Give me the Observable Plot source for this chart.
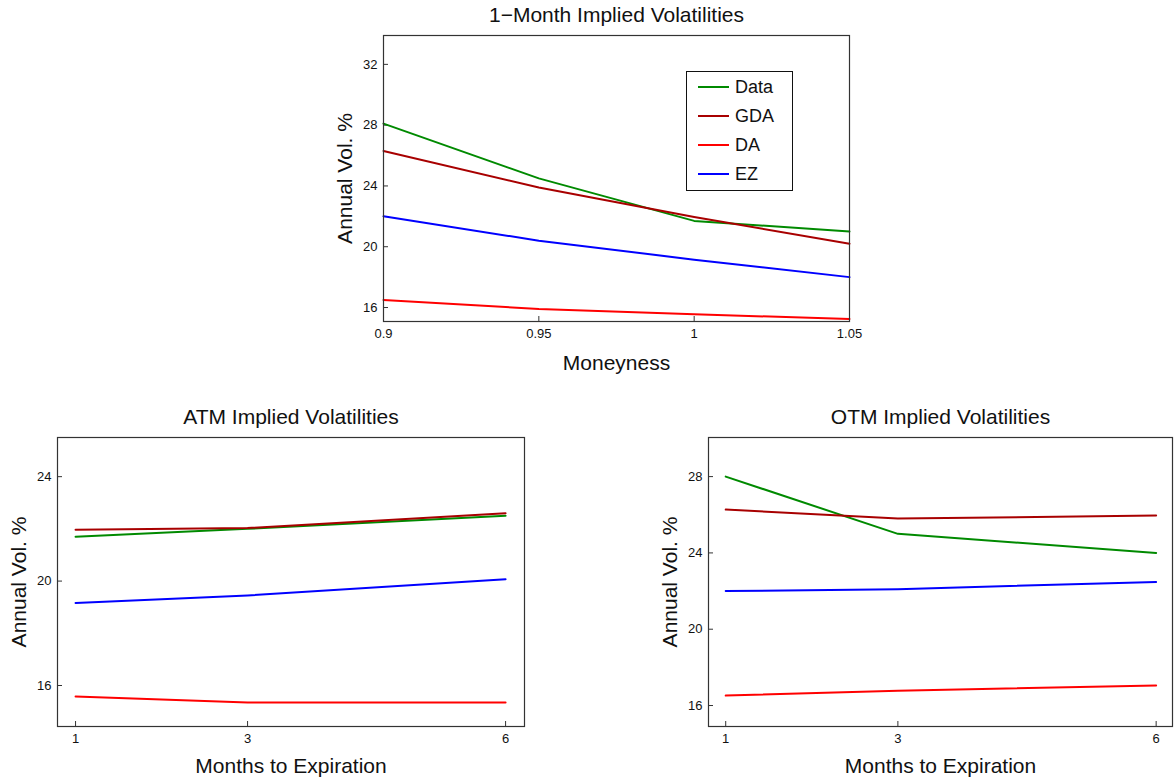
<!DOCTYPE html>
<html>
<head>
<meta charset="utf-8">
<script src="https://cdn.jsdelivr.net/npm/d3@7"></script>
<script src="https://cdn.jsdelivr.net/npm/@observablehq/plot@0.6"></script>
<style>
  html, body { margin: 0; padding: 0; background: #fff; overflow: hidden; }
  body { width: 1174px; height: 780px; position: relative; font-family: "Liberation Sans", Arial, sans-serif; }
  .chart { position: absolute; }
  .legend { position: absolute; background: #fff; border: 1.5px solid #111; box-sizing: border-box; }
  .legend .row { position: absolute; left: 0; height: 22px; }
  .legend .sw { position: absolute; left: 11px; top: 10px; width: 31px; height: 2px; }
  .legend .lab { position: absolute; left: 48px; top: 0; font-size: 18px; line-height: 22px; color: #111; white-space: nowrap; }
</style>
</head>
<body>
<script>
// ---- Data ----
const seriesNames = ["Data", "GDA", "DA", "EZ"];
const seriesColors = ["#008a00", "#a80000", "#ff0000", "#0000ff"];

// 1-Month implied volatilities vs moneyness
const moneyness = [0.9, 0.95, 1, 1.05];
const oneMonthData = [28.1, 24.5, 21.7, 21.0];
const oneMonthGDA  = [26.3, 23.9, 21.95, 20.2];
const oneMonthDA   = [16.5, 15.9, 15.55, 15.25];
const oneMonthEZ   = [22.0, 20.4, 19.15, 18.0];

// ATM implied volatilities vs months to expiration
const months = [1, 3, 6];
const atmData = [21.7, 22.0, 22.5];
const atmGDA  = [21.97, 22.03, 22.6];
const atmDA   = [15.58, 15.35, 15.35];
const atmEZ   = [19.16, 19.45, 20.07];

// OTM implied volatilities vs months to expiration
const otmData = [28.0, 25.0, 24.0];
const otmGDA  = [26.27, 25.8, 25.96];
const otmDA   = [16.52, 16.78, 17.05];
const otmEZ   = [22.0, 22.1, 22.48];

// tick labels
const moneynessTicks = [0.9, 0.95, 1, 1.05];
const monthTicks = [1, 3, 6];
const oneMonthYTicks = [16, 20, 24, 28, 32];
const atmYTicks = [16, 20, 24];
const otmYTicks = [16, 20, 24, 28];

function toRows(xs, lists) {
  const rows = [];
  lists.forEach((vals, si) => {
    vals.forEach((v, i) => rows.push({x: xs[i], y: v, s: seriesNames[si]}));
  });
  return rows;
}

function makeChart(cfg) {
  const W = cfg.frameW, H = cfg.frameH;
  const width = cfg.ml + W + cfg.mr;
  const height = cfg.mt + H + cfg.mb;
  const rows = toRows(cfg.xs, cfg.lists);
  const svg = Plot.plot({
    width, height,
    marginLeft: cfg.ml, marginRight: cfg.mr, marginTop: cfg.mt, marginBottom: cfg.mb,
    style: {fontFamily: '"Liberation Sans", Arial, sans-serif', fontSize: "13px", color: "#111", background: "transparent"},
    x: {domain: cfg.xDomain, ticks: cfg.xTicks, tickSize: 0, tickPadding: 7, label: null, tickFormat: d => String(d)},
    y: {domain: cfg.yDomain, ticks: cfg.yTicks, tickSize: 0, tickPadding: 6, label: null, tickFormat: d => String(d)},
    color: {domain: seriesNames, range: seriesColors},
    marks: [
      Plot.tickX(cfg.xTicks, {x: d => d, insetTop: H - 5, stroke: "#333", strokeWidth: 1}),
      Plot.tickY(cfg.yTicks, {y: d => d, insetRight: W - 5, stroke: "#333", strokeWidth: 1}),
      Plot.line(rows, {x: "x", y: "y", z: "s", stroke: "s", strokeWidth: 2}),
      Plot.frame({stroke: "#333", strokeWidth: 1.2}),
      Plot.text([cfg.title], {frameAnchor: "top", dy: -cfg.titleOffset, text: d => d, fontSize: 21, textAnchor: "middle", lineAnchor: "middle", fill: "#111"}),
      Plot.text([cfg.xLabel], {frameAnchor: "bottom", dy: cfg.xLabelOffset, text: d => d, fontSize: 21, textAnchor: "middle", lineAnchor: "middle", fill: "#111"}),
      Plot.text(["Annual Vol. %"], {frameAnchor: "left", dx: -38, rotate: -90, text: d => d, fontSize: 21, textAnchor: "middle", lineAnchor: "middle", fill: "#111"})
    ]
  });
  const div = document.createElement("div");
  div.className = "chart";
  div.style.left = cfg.left + "px";
  div.style.top = cfg.top + "px";
  div.appendChild(svg);
  document.body.appendChild(div);
}

// Top chart: frame x 383..849, y 35..321
makeChart({
  left: 323, top: 0, ml: 60, mr: 25, mt: 35, mb: 55, frameW: 466, frameH: 286,
  xs: moneyness, lists: [oneMonthData, oneMonthGDA, oneMonthDA, oneMonthEZ],
  xDomain: [0.9, 1.05], yDomain: [15.08, 33.9],
  xTicks: moneynessTicks, yTicks: oneMonthYTicks,
  title: "1\u2212Month Implied Volatilities", titleOffset: 20,
  xLabel: "Moneyness", xLabelOffset: 42
});

// Bottom-left: frame x 57..524, y 437..726
makeChart({
  left: 0, top: 397, ml: 57, mr: 15, mt: 40, mb: 54, frameW: 467, frameH: 289,
  xs: months, lists: [atmData, atmGDA, atmDA, atmEZ],
  xDomain: [0.79, 6.22], yDomain: [14.43, 25.5],
  xTicks: monthTicks, yTicks: atmYTicks,
  title: "ATM Implied Volatilities", titleOffset: 20,
  xLabel: "Months to Expiration", xLabelOffset: 40
});

// Bottom-right: frame x 708..1172, y 437..726
makeChart({
  left: 651, top: 397, ml: 57, mr: 2, mt: 40, mb: 54, frameW: 464, frameH: 289,
  xs: months, lists: [otmData, otmGDA, otmDA, otmEZ],
  xDomain: [0.8, 6.19], yDomain: [14.9, 30.05],
  xTicks: monthTicks, yTicks: otmYTicks,
  title: "OTM Implied Volatilities", titleOffset: 20,
  xLabel: "Months to Expiration", xLabelOffset: 40
});

// Legend for the top chart
const legend = document.createElement("div");
legend.className = "legend";
legend.style.left = "686px";
legend.style.top = "71px";
legend.style.width = "107px";
legend.style.height = "120px";
seriesNames.forEach((name, i) => {
  const row = document.createElement("div");
  row.className = "row";
  row.style.top = (4 + i * 29) + "px";
  const sw = document.createElement("div");
  sw.className = "sw";
  sw.style.background = seriesColors[i];
  const lab = document.createElement("div");
  lab.className = "lab";
  lab.textContent = name;
  row.appendChild(sw);
  row.appendChild(lab);
  legend.appendChild(row);
});
document.body.appendChild(legend);
</script>
</body>
</html>
